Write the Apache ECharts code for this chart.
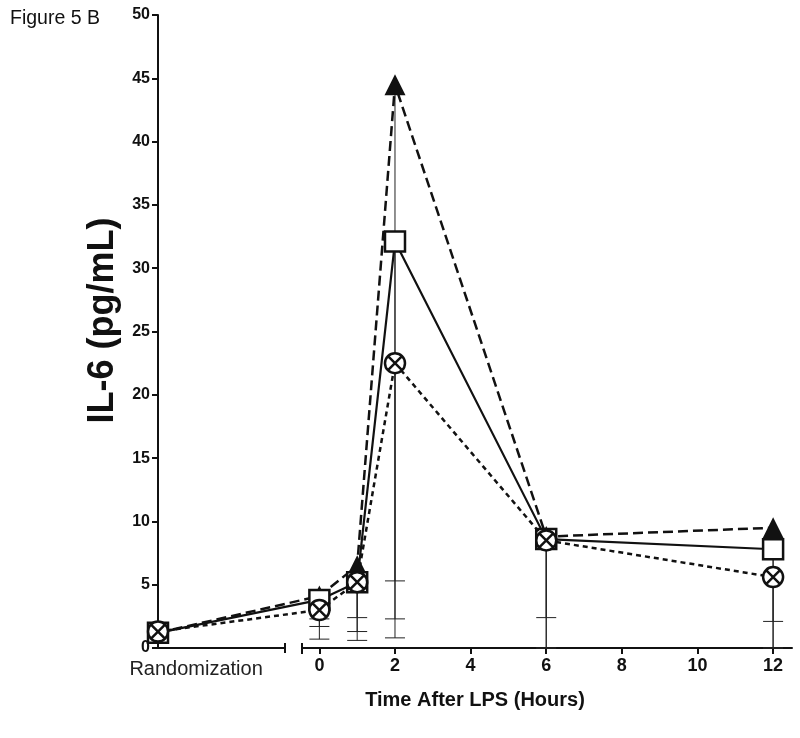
<!DOCTYPE html>
<html>
<head>
<meta charset="utf-8">
<script src="https://cdn.jsdelivr.net/npm/echarts@6/dist/echarts.min.js"></script>
<style>
  html, body { margin: 0; padding: 0; background: #fff; }
  #chart { width: 800px; height: 738px; }
</style>
</head>
<body>
<div id="chart"></div>
<script>
// time points (hours after LPS); first one is the randomization sample
const timePoints = ["Randomization", 0, 1, 2, 6, 12];
const xTicks = [0, 2, 4, 6, 8, 10, 12];
const yTicks = [0, 5, 10, 15, 20, 25, 30, 35, 40, 45, 50];

// group means (pg/mL)
const triangleMean = [1.2, 4.1, 6.5, 44.5, 8.8, 9.5];
const squareMean = [1.2, 3.8, 5.2, 32.1, 8.6, 7.8];
const circleMean = [1.3, 3.0, 5.2, 22.5, 8.5, 5.6];

// lower ends of the error bars (only lower bars drawn)
const triangleLow = [null, 0.7, 0.6, 0.8, 0, 0];
const squareLow = [null, 1.7, 1.3, 2.3, 0, 0];
const circleLow = [null, 2.3, 2.4, 5.3, 2.4, 2.1];

// layout of the broken x axis
const X_MIN = -0.46;
const X_MAX = 12.5;
const RAND_POS = -4.268; // where "Randomization" sits on the shared scale

const xPos = (t) => (t === "Randomization" ? RAND_POS : t);

const chart = echarts.init(document.getElementById("chart"));

const pairs = (means) => timePoints.map((t, i) => [xPos(t), means[i]]);

const bars = (means, lows) =>
  timePoints
    .map((t, i) => [xPos(t), means[i], lows[i]])
    .filter((d) => d[2] !== null);

const circleX =
  "path://M0,10 A10,10 0 1,1 20,10 A10,10 0 1,1 0,10 Z M3,3 L17,17 M17,3 L3,17";

function errorBarSeries(data) {
  return {
    type: "custom",
    xAxisIndex: 0,
    yAxisIndex: 0,
    z: 1,
    silent: true,
    clip: false,
    data,
    renderItem: (params, api) => {
      const top = api.coord([api.value(0), api.value(1)]);
      const low = api.coord([api.value(0), api.value(2)]);
      const half = 10;
      const style = { stroke: "#222", lineWidth: 1 };
      return {
        type: "group",
        children: [
          { type: "line", shape: { x1: top[0], y1: top[1], x2: low[0], y2: low[1] }, style },
          { type: "line", shape: { x1: low[0] - half, y1: low[1], x2: low[0] + half, y2: low[1] }, style },
        ],
      };
    },
  };
}

const tickFont = {
  fontFamily: "Liberation Sans, Arial, sans-serif",
  fontWeight: "bold",
  color: "#111",
};

const axisStroke = { color: "#111", width: 2 };

chart.setOption({
  animation: false,
  backgroundColor: "#fff",
  title: {
    text: "Figure 5 B",
    left: 5,
    top: 4,
    textStyle: {
      fontFamily: "Liberation Sans, Arial, sans-serif",
      fontWeight: "normal",
      fontSize: 19.5,
      color: "#111",
    },
  },
  grid: [
    { left: 158, right: 8, top: 15, bottom: 90 },
    { left: 158, width: 127, top: 15, bottom: 90 },
    { left: 302, right: 8, top: 15, bottom: 90 },
  ],
  xAxis: [
    {
      gridIndex: 0,
      type: "value",
      position: "bottom",
      min: RAND_POS,
      max: X_MAX,
      axisLine: { show: false },
      axisTick: { show: false },
      axisLabel: { show: false },
      splitLine: { show: false },
      name: "Time After LPS (Hours)",
      nameLocation: "middle",
      nameGap: 42,
      nameTextStyle: { ...tickFont, fontSize: 20 },
    },
    {
      gridIndex: 1,
      type: "value",
      position: "bottom",
      min: 0,
      max: 1,
      axisLine: { show: true, onZero: false, lineStyle: axisStroke },
      axisTick: { show: true, customValues: [1], length: 5, lineStyle: axisStroke },
      axisLabel: {
        show: true,
        customValues: [0.3],
        formatter: () => timePoints[0],
        margin: 11,
        fontFamily: "Liberation Sans, Arial, sans-serif",
        fontSize: 20,
        color: "#222",
      },
      splitLine: { show: false },
    },
    {
      gridIndex: 1,
      type: "value",
      position: "bottom",
      min: 0,
      max: 1,
      axisLine: { show: false, onZero: false },
      axisTick: { show: true, inside: true, customValues: [1], length: 5, lineStyle: axisStroke },
      axisLabel: { show: false },
      splitLine: { show: false },
    },
    {
      gridIndex: 2,
      type: "value",
      position: "bottom",
      min: X_MIN,
      max: X_MAX,
      axisLine: { show: true, onZero: false, lineStyle: axisStroke },
      axisTick: { show: true, customValues: [X_MIN, ...xTicks], length: 6, lineStyle: axisStroke },
      axisLabel: {
        show: true,
        customValues: xTicks,
        margin: 9,
        fontSize: 18,
        ...tickFont,
      },
      splitLine: { show: false },
    },
    {
      gridIndex: 2,
      type: "value",
      position: "bottom",
      min: X_MIN,
      max: X_MAX,
      axisLine: { show: false, onZero: false },
      axisTick: { show: true, inside: true, customValues: [X_MIN], length: 5, lineStyle: axisStroke },
      axisLabel: { show: false },
      splitLine: { show: false },
    },
  ],
  yAxis: [
    {
      gridIndex: 0,
      type: "value",
      position: "left",
      min: 0,
      max: 50,
      interval: 5,
      axisLine: { show: true, onZero: false, lineStyle: axisStroke },
      axisTick: { show: true, length: 6, lineStyle: axisStroke },
      axisLabel: {
        show: true,
        customValues: yTicks,
        margin: 8,
        fontSize: 16,
        ...tickFont,
      },
      splitLine: { show: false },
      name: "IL-6 (pg/mL)",
      nameLocation: "middle",
      nameGap: 32,
      nameTextStyle: {
        ...tickFont,
        fontSize: 36,
        padding: [0, 0, 0, 22],
      },
    },
    { gridIndex: 1, type: "value", min: 0, max: 50, show: false },
    { gridIndex: 2, type: "value", min: 0, max: 50, show: false },
  ],
  series: [
    errorBarSeries(bars(triangleMean, triangleLow)),
    errorBarSeries(bars(squareMean, squareLow)),
    errorBarSeries(bars(circleMean, circleLow)),
    {
      name: "triangle",
      type: "line",
      xAxisIndex: 0,
      yAxisIndex: 0,
      z: 2,
      clip: false,
      data: pairs(triangleMean),
      symbol: "triangle",
      symbolSize: 21,
      lineStyle: { color: "#111", width: 2.5, type: [10, 5] },
      itemStyle: { color: "#111" },
    },
    {
      name: "square",
      type: "line",
      xAxisIndex: 0,
      yAxisIndex: 0,
      z: 3,
      clip: false,
      data: pairs(squareMean),
      symbol: "rect",
      symbolSize: 20,
      lineStyle: { color: "#111", width: 2.2, type: "solid" },
      itemStyle: { color: "#fff", borderColor: "#111", borderWidth: 2.5 },
    },
    {
      name: "circle",
      type: "line",
      xAxisIndex: 0,
      yAxisIndex: 0,
      z: 4,
      clip: false,
      data: pairs(circleMean),
      symbol: circleX,
      symbolSize: 20,
      lineStyle: { color: "#111", width: 2.5, type: [5, 4] },
      itemStyle: { color: "#fff", borderColor: "#111", borderWidth: 2.5 },
    },
  ],
});
</script>
</body>
</html>
